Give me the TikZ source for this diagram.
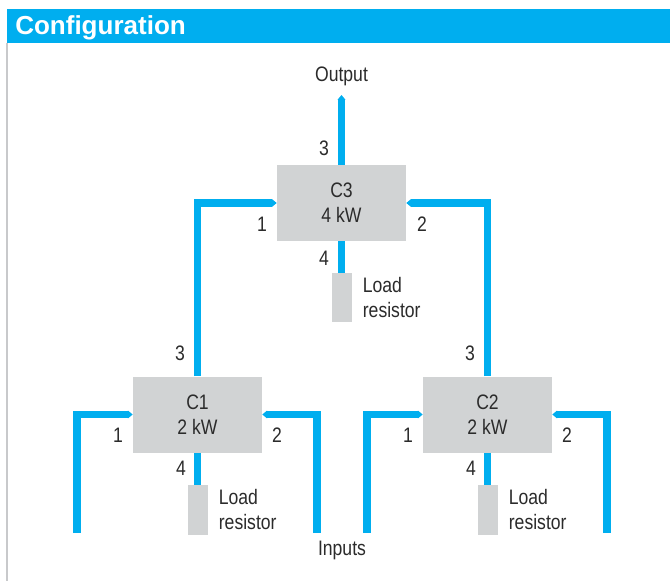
\documentclass[tikz,border=0pt]{standalone}
\usepackage{fontspec}
\setmainfont{Liberation Sans}
\newfontfamily\narrowfont{Liberation Sans}[FakeStretch=0.84]
\usepackage{tikz}
\usetikzlibrary{arrows.meta,positioning}
\definecolor{feedblue}{HTML}{00AEEF}
\definecolor{boxgray}{HTML}{D1D3D4}
\definecolor{ink}{HTML}{2B2B2B}
\definecolor{rulegray}{HTML}{C8C9CB}

\begin{document}
\begin{tikzpicture}[
  x=0.025cm, y=-0.025cm,
  font=\narrowfont\fontsize{14.9}{17.8}\selectfont, text=ink,
  coupler/.style={fill=boxgray, minimum width=3.225cm, minimum height=1.9cm,
                  align=center, inner sep=0pt},
  resbox/.style={fill=boxgray, minimum width=0.5cm, minimum height=1.24cm,
                 inner sep=0pt},
  port/.style={inner sep=0pt},
  restext/.style={align=left, inner sep=0pt, anchor=west},
  feed/.style={feedblue, line width=0.19cm},
  flow/.style={feed, -{Triangle[length=3.4pt, width=0pt 1]}}]

\useasboundingbox (0,0) rectangle (670,581);
\fill[white] (0,0) rectangle (670,581);

% ================================================================ header
\fill[feedblue] (7,9) rectangle (670,43);
\draw[rulegray, line width=0.04cm] (7,43) -- (7,581);
\node[anchor=west, inner sep=0pt, text=white,
      font=\bfseries\fontsize{18.5}{20}\selectfont] (title) at (15,27.5) {Configuration};

% ================================================================ couplers
\node[coupler] (c3) at (341.5,203)   {C3\\4 kW};
\node[coupler] (c1) at (197.5,414.5) {C1\\2 kW};
\node[coupler] (c2) at (487.5,414.5) {C2\\2 kW};

\node[resbox, below=0.78cm of c3] (r3) {};
\node[resbox, below=0.8cm of c1]  (r1) {};
\node[resbox, below=0.8cm of c2]  (r2) {};

\node[restext, right=0.27cm of r3] (l3) {Load\\resistor};
\node[restext, right=0.27cm of r1] (l1) {Load\\resistor};
\node[restext, right=0.27cm of r2] (l2) {Load\\resistor};

% ================================================================ feeds
\coordinate (out)  at (341.5,95);
\coordinate (in11) at (77,533);
\coordinate (in12) at (317,533);
\coordinate (in21) at (367,533);
\coordinate (in22) at (607,533);

\draw[flow] (c3.north) -- (out);
\draw[flow] (c1.north) |- (c3.west);
\draw[flow] (c2.north) |- (c3.east);
\draw[flow] (in11) |- (c1.west);
\draw[flow] (in12) |- (c1.east);
\draw[flow] (in21) |- (c2.west);
\draw[flow] (in22) |- (c2.east);
\draw[feed] (c3.south) -- (r3.north);
\draw[feed] (c1.south) -- (r1.north);
\draw[feed] (c2.south) -- (r2.north);

% ================================================================ labels
\node (output) at (341.5,76) {Output};
\node (inputs) at (342,550)  {Inputs};

\node[port] (p33) at (324,148) {3};
\node[port] (p31) at (262,224) {1};
\node[port] (p32) at (422,224) {2};
\node[port] (p34) at (324,258) {4};

\node[port] (p13) at (180,353) {3};
\node[port] (p11) at (118,435) {1};
\node[port] (p12) at (277,435) {2};
\node[port] (p14) at (181,468) {4};

\node[port] (p23) at (470,353) {3};
\node[port] (p21) at (408,435) {1};
\node[port] (p22) at (567,435) {2};
\node[port] (p24) at (471,468) {4};

\end{tikzpicture}
\end{document}
